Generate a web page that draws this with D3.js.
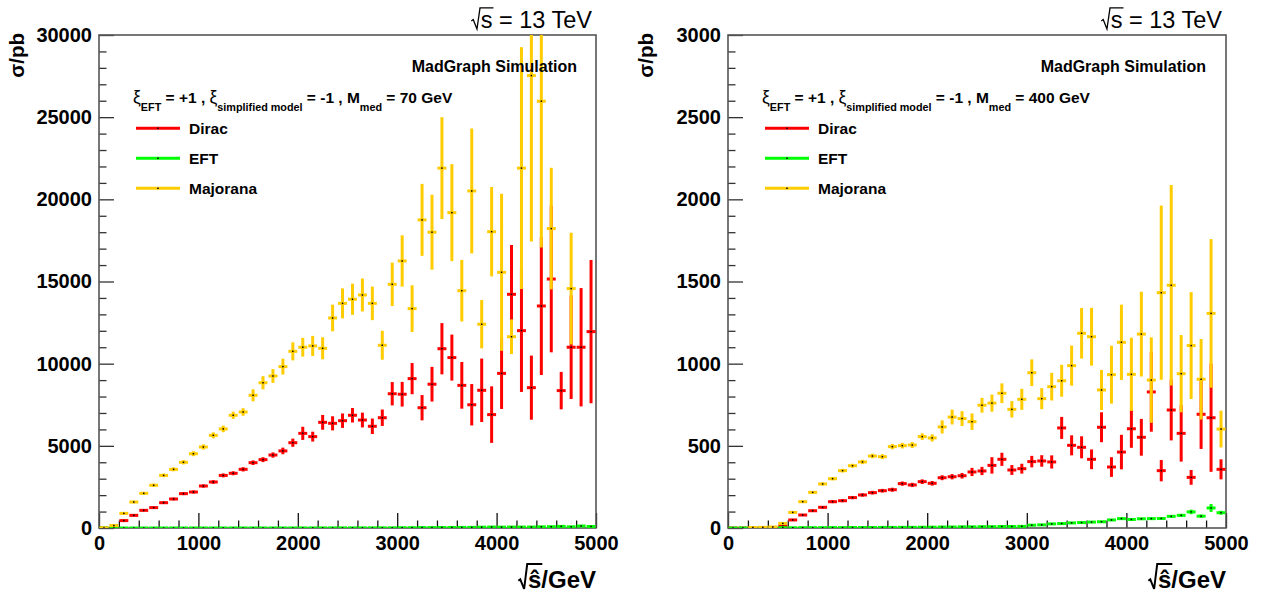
<!DOCTYPE html>
<html><head><meta charset="utf-8">
<script src="https://cdn.jsdelivr.net/npm/d3@7"></script>
<style>body{margin:0;background:#fff} text{font-family:"Liberation Sans",Arial,Helvetica,sans-serif}</style>
</head><body><svg id="c" width="1274" height="594"></svg>
<script>
// ---------- data ----------
const binCenters = [50,150,250,350,450,550,650,750,850,950,1050,1150,1250,1350,1450,1550,1650,1750,1850,1950,
  2050,2150,2250,2350,2450,2550,2650,2750,2850,2950,3050,3150,3250,3350,3450,3550,3650,3750,3850,3950,
  4050,4150,4250,4350,4450,4550,4650,4750,4850,4950];
const binWidth = 100;
const xTicks = [0,1000,2000,3000,4000,5000];
const yTicksLeft = [0,5000,10000,15000,20000,25000,30000];
const yTicksRight = [0,500,1000,1500,2000,2500,3000];
const seriesNames = ["Dirac","EFT","Majorana"];
const seriesColors = ["#ff0000","#00ff00","#ffcc00"];

// EFT is identical in both panels (independent of mediator mass)
const eft = [0,0.5,1,1,1,1.5,1.5,2,2,2, 2.5,2.5,3,3,3,3.5,3.5,4,4,4.5,
  5,6,6,7,7,8,8,9,9,10, 17,19,25,27,31,33,36,38,49,57,
  52,56,57,58,71,77,98,72,122,93];
const eftErr = [0,0.3,0.4,0.4,0.4,0.5,0.5,0.6,0.6,0.6, 0.7,0.7,0.8,0.8,0.8,0.9,0.9,1,1,1.1,
  1.2,1.3,1.4,1.5,1.6,1.7,1.8,2,2,2.2, 3,3,3.5,3.5,4,4,4.5,4.5,5,6,
  6,6,6.5,7,8,9,14,10,24,12];

// Left panel: M_med = 70 GeV
const diracL = [0,0,450,770,1075,1240,1540,1765,2090,2190, 2555,2800,3200,3330,3570,3975,4160,4440,4690,5190,
  5760,5560,6430,6370,6530,6860,6570,6190,6710,8170, 8140,9090,7320,8750,10910,10370,8680,7500,8380,6900,
  9410,14220,12010,8540,13510,15150,8360,11000,11000,11950];
const diracErrL = [0,0,40,50,60,60,70,80,90,90, 100,110,120,120,130,140,150,160,200,250,
  400,300,450,430,440,440,450,470,500,710, 750,950,770,1055,1560,1400,1420,1260,1930,1720,
  2170,3000,3730,1950,4200,4460,1140,3150,3600,4360];
const majL = [0,150,890,1580,2110,2600,3200,3570,4000,4520, 4930,5640,6030,6860,7060,8075,8840,9250,9820,10750,
  11000,11080,10935,12780,13670,13920,14180,13670,11120,14830, 16250,13350,18750,18000,21900,19190,14440,20510,12400,18030,
  15560,11640,21900,27530,25970,18220,null,14570,null,null];
const majErrL = [0,30,60,80,90,100,110,120,130,150, 160,180,200,220,230,365,400,420,480,550,
  570,610,670,810,910,950,1000,1020,880,1320, 1560,1420,2190,2280,3100,2950,1875,3800,1470,2720,
  4780,1055,7360,10100,8900,3700,null,3400,null,null];

// Right panel: M_med = 400 GeV
const diracR = [0,0,0,0,2,12,49,79,105,126, 160,166,185,201,215,227,233,270,262,282,
  272,306,312,318,341,347,381,418,353,361, 404,408,402,609,503,491,418,613,371,462,
  604,552,828,349,718,576,308,692,671,357];
const diracErrR = [0,0,0,0,1,3,5,6,7,8, 9,9,10,10,11,11,12,13,13,14,
  14,15,16,17,25,25,50,40,30,30, 35,35,40,67,61,67,60,91,60,105,
  116,112,242,65,185,172,45,211,329,61];
const majR = [null,null,3,4,6,28,95,160,217,268, 300,349,379,402,438,434,495,501,505,556,
  548,615,675,666,647,747,760,820,722,783, 945,787,860,896,988,1185,1164,840,933,1130,
  935,1180,900,1432,1477,939,1110,905,1306,602];
const majErrR = [null,null,1,1,2,3,5,7,8,9, 10,11,12,13,14,15,16,17,18,20,
  22,40,45,45,50,45,52,60,50,64, 81,64,84,97,122,154,176,122,176,229,
  223,258,260,530,610,235,325,245,452,112];

// ---------- drawing ----------
const svg = d3.select("#c");
const FT = 35, FB = 528;

function radicalText(g, xEnd, yBase, body, size, weight, topFrac) {
  const t = g.append("text").attr("x", xEnd).attr("y", yBase).attr("text-anchor","end")
    .attr("font-size", size).attr("font-weight", weight).text(body);
  const w = t.node().getComputedTextLength();
  const first = g.append("text").attr("font-size", size).attr("font-weight", weight)
    .attr("x", -1000).attr("y", -1000).text(body[0]);
  const wf = first.node().getComputedTextLength();
  first.remove();
  const xs = xEnd - w;
  const top = yBase - size * topFrac;
  g.append("path").attr("fill","none").attr("stroke","#000").attr("stroke-width", weight==="bold"?2:1.3)
    .attr("d", `M${xs-size*0.40},${yBase-size*0.30} L${xs-size*0.32},${yBase-size*0.36} L${xs-size*0.16},${yBase+1} L${xs-size*0.03},${top} L${xs+wf+1},${top}`);
}

function panel(cfg) {
  const g = svg.append("g");
  const x = d3.scaleLinear().domain([0, 5000]).range([cfg.x0, cfg.x1]);
  const y = d3.scaleLinear().domain([0, cfg.yMax]).range([FB, FT]);
  const clipId = "clip" + cfg.id;
  svg.append("defs").append("clipPath").attr("id", clipId).append("rect")
    .attr("x", cfg.x0).attr("y", FT).attr("width", cfg.x1 - cfg.x0).attr("height", FB - FT);

  const xMinor = d3.range(200, 5000, 200).filter(v => v % 1000 !== 0);
  const yMinor = d3.range(cfg.yMinor, cfg.yMax, cfg.yMinor).filter(v => v % cfg.yMajor !== 0);
  g.append("g").attr("transform", `translate(0,${FB})`)
    .call(d3.axisBottom(x).tickValues(xMinor).tickSize(-7.5).tickFormat(""))
    .call(s => s.select(".domain").remove())
    .call(s => s.selectAll("line").attr("stroke","#111").attr("stroke-width",1.3));
  g.append("g").attr("transform", `translate(${cfg.x0},0)`)
    .call(d3.axisLeft(y).tickValues(yMinor).tickSize(-7.5).tickFormat(""))
    .call(s => s.select(".domain").remove())
    .call(s => s.selectAll("line").attr("stroke","#333").attr("stroke-width",1.3));
  g.append("g").attr("transform", `translate(0,${FB})`)
    .call(d3.axisBottom(x).tickValues(xTicks).tickSize(-15).tickPadding(8).tickFormat(d3.format("d")))
    .call(s => s.select(".domain").remove())
    .call(s => s.selectAll("line").attr("stroke","#111").attr("stroke-width",1.3))
    .call(s => s.selectAll("text").attr("font-size",20).attr("font-weight","bold").attr("fill","#000")
      .attr("font-family",'"Liberation Sans",Arial,sans-serif').attr("dy","0.71em"));
  g.append("g").attr("transform", `translate(${cfg.x0},0)`)
    .call(d3.axisLeft(y).tickValues(cfg.yTicks).tickSize(-15).tickPadding(7).tickFormat(d3.format("d")))
    .call(s => s.select(".domain").remove())
    .call(s => s.selectAll("line").attr("stroke","#333").attr("stroke-width",1.3))
    .call(s => s.selectAll("text").attr("font-size",20).attr("font-weight","bold").attr("fill","#000")
      .attr("font-family",'"Liberation Sans",Arial,sans-serif'));

  g.append("rect").attr("x", cfg.x0).attr("y", FT).attr("width", cfg.x1 - cfg.x0).attr("height", FB - FT)
    .attr("fill","none").attr("stroke","#555").attr("stroke-width",1.6);

  const series = [
    {v: cfg.dirac, e: cfg.diracErr, c: seriesColors[0]},
    {v: eft, e: eftErr, c: seriesColors[1]},
    {v: cfg.maj, e: cfg.majErr, c: seriesColors[2]}
  ];
  const dg = g.append("g").attr("clip-path", `url(#${clipId})`);
  series.forEach(s => {
    const pts = binCenters.map((c, i) => ({c, v: s.v[i], e: s.e[i]})).filter(p => p.v !== null);
    const sg = dg.append("g").attr("stroke", s.c).attr("stroke-width", 3);
    sg.selectAll("line.h").data(pts).join("line").attr("class","h")
      .attr("x1", p => x(p.c - binWidth/2) + 0.5).attr("x2", p => x(p.c + binWidth/2) - 0.5)
      .attr("y1", p => y(p.v)).attr("y2", p => y(p.v));
    sg.selectAll("line.v").data(pts.filter(p => p.e > 0)).join("line").attr("class","v")
      .attr("x1", p => x(p.c)).attr("x2", p => x(p.c))
      .attr("y1", p => y(p.v - p.e)).attr("y2", p => y(p.v + p.e));
    dg.append("g").selectAll("rect").data(pts).join("rect")
      .attr("x", p => x(p.c) - 0.75).attr("y", p => y(p.v) - 0.75).attr("width",1.5).attr("height",1.5).attr("fill","#000");
  });

  const lx = cfg.x0 + 34;
  const hdr = g.append("text").attr("x", lx).attr("y", 103).attr("font-weight","bold").attr("font-size",15.5);
  hdr.append("tspan").attr("font-size",17.5).attr("font-weight","normal").text("ξ");
  hdr.append("tspan").attr("font-size",10.8).attr("dy",8).text("EFT");
  hdr.append("tspan").attr("dy",-8).text(" = +1 , ");
  hdr.append("tspan").attr("font-size",17.5).attr("font-weight","normal").text("ξ");
  hdr.append("tspan").attr("font-size",10.8).attr("dy",8).text("simplified model");
  hdr.append("tspan").attr("dy",-8).text(" = -1 , M");
  hdr.append("tspan").attr("font-size",10.8).attr("dy",8).text("med");
  hdr.append("tspan").attr("dy",-8).text(" = " + cfg.mmed);

  seriesNames.forEach((n, i) => {
    const yy = 128.3 + i * 30;
    g.append("line").attr("x1", cfg.x0 + 37).attr("x2", cfg.x0 + 81).attr("y1", yy).attr("y2", yy)
      .attr("stroke", seriesColors[i]).attr("stroke-width", 3);
    g.append("rect").attr("x", cfg.x0 + 58.2).attr("y", yy - 0.75).attr("width",1.5).attr("height",1.5).attr("fill","#000");
    g.append("text").attr("x", cfg.x0 + 90).attr("y", yy + 5.7).attr("font-size",15.5).attr("font-weight","bold").text(n);
  });

  g.append("text").attr("x", cfg.x0 + 478).attr("y", 72).attr("text-anchor","end")
    .attr("font-size",16).attr("font-weight","bold").text("MadGraph Simulation");

  radicalText(g, cfg.x1 - 4, 28, "s = 13 TeV", 23.5, "normal", 0.86);

  g.append("text").attr("transform", `translate(${cfg.x0 - 75},33) rotate(-90)`).attr("text-anchor","end")
    .attr("font-size",20.5).attr("font-weight","bold").text("σ/pb");

  radicalText(g, cfg.x1, 588, "ŝ/GeV", 24, "bold", 1.0);
}

panel({id:"L", x0:99, x1:596, yMax:30000, yMajor:5000, yMinor:1000, yTicks:yTicksLeft,
  dirac:diracL, diracErr:diracErrL, maj:majL, majErr:majErrL, mmed:"70 GeV"});
panel({id:"R", x0:728, x1:1226, yMax:3000, yMajor:500, yMinor:100, yTicks:yTicksRight,
  dirac:diracR, diracErr:diracErrR, maj:majR, majErr:majErrR, mmed:"400 GeV"});
</script></body></html>
